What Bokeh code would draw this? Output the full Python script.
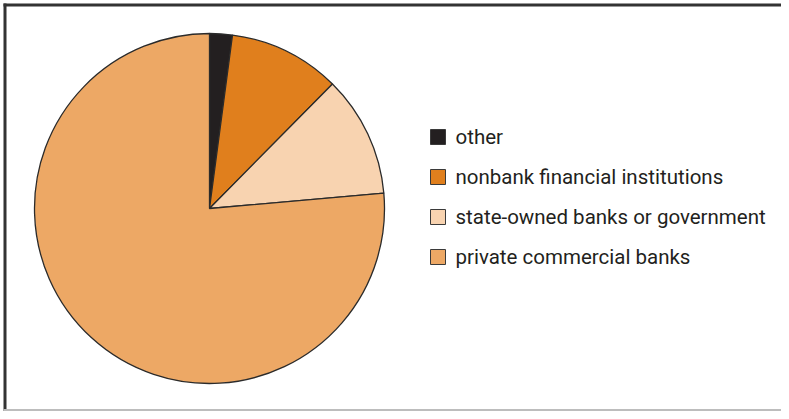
import math
from bokeh.plotting import figure
from bokeh.models import ColumnDataSource, Range1d
from bokeh.core.properties import value
from bokeh.embed import file_html
from bokeh.resources import INLINE

# data
categories = ["other", "nonbank financial institutions",
              "state-owned banks or government", "private commercial banks"]
shares = [2.1, 10.3, 11.2, 76.4]
colors = ["#231f20", "#e07f1d", "#f8d3b0", "#eda865"]

W, H = 781, 411
p = figure(width=W, height=H, output_backend="svg", toolbar_location=None,
           x_range=Range1d(0, W), y_range=Range1d(0, H),
           min_border=0, outline_line_color=None)
p.axis.visible = False
p.grid.visible = False
p.background_fill_color = "white"
p.border_fill_color = "white"

# pie: starts at 12 o'clock, runs clockwise
total = sum(shares)
starts, ends = [], []
cum = 0.0
for s in shares:
    a0 = math.pi / 2 - 2 * math.pi * cum / total
    cum += s
    a1 = math.pi / 2 - 2 * math.pi * cum / total
    starts.append(a1)
    ends.append(a0)

cx, cy, r = 209, H - 208, 175
src = ColumnDataSource(dict(start=starts, end=ends, color=colors, cat=categories))
p.wedge(x=cx, y=cy, radius=r, start_angle="start", end_angle="end",
        fill_color="color", line_color="#2b2b2b", line_width=1.3, source=src)

# legend
ly = [H - (136.5 + 40 * i) for i in range(len(categories))]
lsrc = ColumnDataSource(dict(y=ly, color=colors, cat=categories))
p.rect(x=437.5, y="y", width=15, height=15, fill_color="color",
       line_color="#3a3a3a", line_width=1, source=lsrc)
p.text(x=455, y="y", text="cat", text_font=value("Roboto"),
       text_font_size="20.5px", text_color="#231f20", text_baseline="middle",
       source=lsrc)

# frame
p.segment(x0=[3, 4.5], y0=[H - 4.5, H - 3], x1=[W, 4.5], y1=[H - 4.5, 0],
          line_color="#333333", line_width=3)
p.segment(x0=[3], y0=[1.5], x1=[W], y1=[1.5], line_color="#bdbdbd", line_width=2)

open("out.html", "w").write(file_html(p, INLINE))
